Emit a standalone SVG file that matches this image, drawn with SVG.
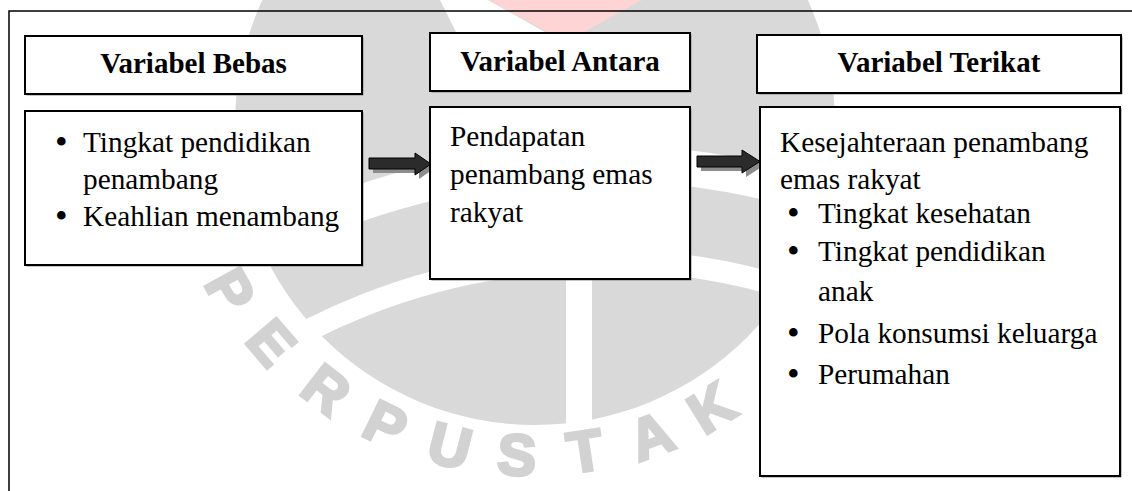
<svg xmlns="http://www.w3.org/2000/svg" width="1132" height="491" viewBox="0 0 1132 491">
<style>
.wm{fill:#d9d9d9}
.wl{font-weight:900;font-size:58px;fill:#d2d2d2;stroke:#d2d2d2;stroke-width:3;text-anchor:middle}
.box{fill:#fff;stroke:#000;stroke-width:2}
.shd{fill:#8a8a8a}
.h{font-weight:bold;font-size:29px;text-anchor:middle;fill:#000}
.t{font-size:29.3px;fill:#000}
.b{font-size:36px;fill:#000}
.arr{fill:#2b2b2b;stroke:#000;stroke-width:1}
.arrs{fill:#8c8c8c}
</style>
<rect width="1132" height="491" fill="#fff"/>
<g id="watermark" font-family="Liberation Sans, DejaVu Sans, sans-serif">
  <circle class="wm" cx="535" cy="125" r="300"/>
  <polygon points="440,0 488,0 566,44 470,60" fill="#fff"/>
  <polygon points="488,0 642,0 566,42" fill="#ffd4d4"/>
  <circle cx="600" cy="900" r="737" fill="none" stroke="#fff" stroke-width="36"/>
  <circle cx="600" cy="900" r="640" fill="none" stroke="#fff" stroke-width="22"/>
  <rect x="566" y="280" width="26" height="150" fill="#fff"/>
  <text class="wl" transform="translate(231,290) rotate(61)" y="21">P</text>
  <text class="wl" transform="translate(272,342) rotate(49.4)" y="21">E</text>
  <text class="wl" transform="translate(327,389) rotate(37.8)" y="21">R</text>
  <text class="wl" transform="translate(386,424) rotate(26.2)" y="21">P</text>
  <text class="wl" transform="translate(450,445) rotate(14.6)" y="21">U</text>
  <text class="wl" transform="translate(517,454) rotate(3)" y="21">S</text>
  <text class="wl" transform="translate(585,450) rotate(-8.6)" y="21">T</text>
  <text class="wl" transform="translate(651,435) rotate(-20.2)" y="21">A</text>
  <text class="wl" transform="translate(711,407) rotate(-31.8)" y="21">K</text>
</g>
<path id="frame" d="M9,491 V11 H1132" fill="none" stroke="#000" stroke-width="1.5"/>
<g id="connectors">
  <path class="arrs" d="M373,162 H419 V157 L435,168 L419,179 V173 H373 Z"/>
  <path class="arr" d="M369,158 H415 V153 L431,164 L415,175 V169 H369 Z"/>
  <path class="arrs" d="M701,160 H746 V154 L764,165.5 L746,177 V171 H701 Z"/>
  <path class="arr" d="M697,156 H742 V150 L760,161.5 L742,173 V167 H697 Z"/>
</g>
<g font-family="Liberation Serif, Times New Roman, serif">
<g id="bebas-header">
  <rect class="shd" x="26.5" y="37.5" width="337" height="58"/>
  <rect class="box" x="25" y="36" width="337" height="58"/>
  <text class="h" x="193.5" y="73">Variabel Bebas</text>
</g>
<g id="bebas-body">
  <rect class="shd" x="26.5" y="112.5" width="337" height="154"/>
  <rect class="box" x="25" y="111" width="337" height="154"/>
  <text class="b" x="55" y="154">•</text>
  <text class="t" x="83" y="152">Tingkat pendidikan</text>
  <text class="t" x="83" y="189">penambang</text>
  <text class="b" x="55" y="228">•</text>
  <text class="t" x="83" y="226">Keahlian menambang</text>
</g>
<g id="antara-header">
  <rect class="shd" x="431.5" y="34.5" width="260" height="58"/>
  <rect class="box" x="430" y="33" width="260" height="58"/>
  <text class="h" x="560" y="71">Variabel Antara</text>
</g>
<g id="antara-body">
  <rect class="shd" x="431.5" y="108.5" width="260" height="172"/>
  <rect class="box" x="430" y="107" width="260" height="172"/>
  <text class="t" x="450" y="146">Pendapatan</text>
  <text class="t" x="450" y="184">penambang emas</text>
  <text class="t" x="450" y="222">rakyat</text>
</g>
<g id="terikat-header">
  <rect class="shd" x="758.5" y="36.5" width="364" height="58"/>
  <rect class="box" x="757" y="35" width="364" height="58"/>
  <text class="h" x="939" y="72">Variabel Terikat</text>
</g>
<g id="terikat-body">
  <rect class="shd" x="761.5" y="108.5" width="360" height="369"/>
  <rect class="box" x="760" y="107" width="360" height="369"/>
  <text class="t" x="780" y="152">Kesejahteraan penambang</text>
  <text class="t" x="780" y="189">emas rakyat</text>
  <text class="b" x="787" y="225">•</text>
  <text class="t" x="818" y="223">Tingkat kesehatan</text>
  <text class="b" x="787" y="263">•</text>
  <text class="t" x="818" y="261">Tingkat pendidikan</text>
  <text class="t" x="818" y="301">anak</text>
  <text class="b" x="787" y="345">•</text>
  <text class="t" x="818" y="343">Pola konsumsi keluarga</text>
  <text class="b" x="787" y="386">•</text>
  <text class="t" x="818" y="384">Perumahan</text>
</g>
</g>
</svg>
